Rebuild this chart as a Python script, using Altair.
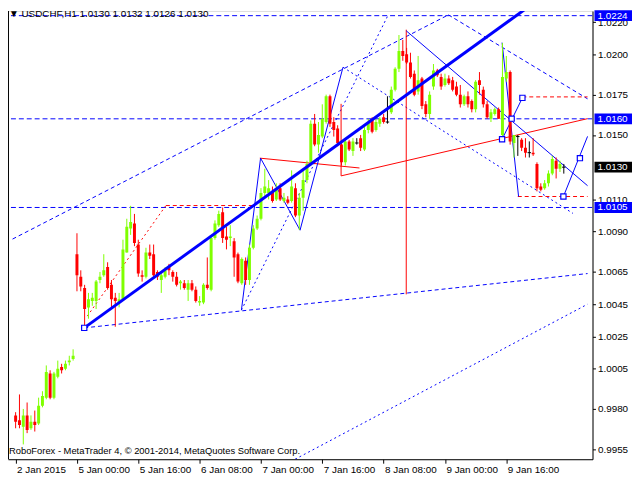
import altair as alt
import pandas as pd

FONT = "Liberation Sans"
BLUE = "#0000ff"
RED = "#ff0000"
GREEN = "#7fff00"

opens = [0.9976, 0.9973, 0.9969, 0.9976, 0.9968, 0.9972, 0.9971, 0.9982, 0.9987, 1.0002,
         0.9987, 1.0000, 1.0006, 1.0005, 1.0009, 1.0011, 1.0076, 1.0062, 1.0055, 1.0043,
         1.0047, 1.0047, 1.0060, 1.0063, 1.0068, 1.0057, 1.0049, 1.0046, 1.0048, 1.0077,
         1.0092, 1.0095, 1.0082, 1.0063, 1.0062, 1.0077, 1.0076, 1.0065, 1.0060, 1.0062,
         1.0068, 1.0065, 1.0062, 1.0058, 1.0058, 1.0054, 1.0058, 1.0054, 1.0046, 1.0046,
         1.0057, 1.0054, 1.0086, 1.0094, 1.0102, 1.0087, 1.0086, 1.0084, 1.0076, 1.0058,
         1.0072, 1.0060, 1.0080, 1.0092, 1.0098, 1.0114, 1.0114, 1.0115, 1.0110, 1.0117,
         1.0109, 1.0110, 1.0109, 1.0117, 1.0100, 1.0111, 1.0122, 1.0132, 1.0157, 1.0144,
         1.0149, 1.0158, 1.0174, 1.0158, 1.0154, 1.0144, 1.0133, 1.0146, 1.0140, 1.0145,
         1.0148, 1.0141, 1.0153, 1.0160, 1.0153, 1.0157, 1.0161, 1.0158, 1.0164, 1.0178,
         1.0191, 1.0202, 1.0200, 1.0195, 1.0188, 1.0177, 1.0185, 1.0169, 1.0163, 1.0180,
         1.0190, 1.0186, 1.0181, 1.0185, 1.0184, 1.0180, 1.0175, 1.0169, 1.0174, 1.0171,
         1.0166, 1.0184, 1.0178, 1.0169, 1.0160, 1.0163, 1.0166, 1.0150, 1.0185, 1.0189,
         1.0145, 1.0149, 1.0147, 1.0142, 1.0139, 1.0139, 1.0132, 1.0118, 1.0117, 1.0120,
         1.0126, 1.0134, 1.0129, 1.0130]
highs = [0.9978, 0.9989, 0.9980, 0.9984, 0.9976, 0.9979, 0.9987, 0.9991, 1.0007, 1.0004,
         1.0003, 1.0010, 1.0008, 1.0010, 1.0013, 1.0017, 1.0089, 1.0066, 1.0057, 1.0052,
         1.0052, 1.0060, 1.0065, 1.0076, 1.0071, 1.0060, 1.0052, 1.0052, 1.0085, 1.0098,
         1.0106, 1.0101, 1.0085, 1.0066, 1.0080, 1.0082, 1.0082, 1.0066, 1.0065, 1.0068,
         1.0070, 1.0066, 1.0065, 1.0060, 1.0060, 1.0060, 1.0060, 1.0056, 1.0050, 1.0058,
         1.0074, 1.0087, 1.0097, 1.0103, 1.0105, 1.0093, 1.0094, 1.0086, 1.0077, 1.0074,
         1.0074, 1.0082, 1.0094, 1.0100, 1.0117, 1.0129, 1.0122, 1.0118, 1.0120, 1.0120,
         1.0114, 1.0112, 1.0128, 1.0120, 1.0114, 1.0128, 1.0134, 1.0159, 1.0163, 1.0158,
         1.0169, 1.0175, 1.0175, 1.0161, 1.0156, 1.0146, 1.0148, 1.0147, 1.0148, 1.0148,
         1.0150, 1.0155, 1.0160, 1.0161, 1.0160, 1.0161, 1.0163, 1.0174, 1.0180, 1.0192,
         1.0212, 1.0209, 1.0204, 1.0201, 1.0190, 1.0199, 1.0186, 1.0171, 1.0177, 1.0194,
         1.0191, 1.0188, 1.0188, 1.0187, 1.0186, 1.0183, 1.0181, 1.0175, 1.0177, 1.0172,
         1.0184, 1.0189, 1.0180, 1.0171, 1.0166, 1.0167, 1.0167, 1.0207, 1.0199, 1.0190,
         1.0150, 1.0150, 1.0148, 1.0148, 1.0146, 1.0148, 1.0133, 1.0120, 1.0122, 1.0128,
         1.0137, 1.0136, 1.0134, 1.0132]
lows = [0.9968, 0.9968, 0.9958, 0.9965, 0.9967, 0.9966, 0.9970, 0.9981, 0.9986, 0.9986,
        0.9986, 0.9999, 1.0002, 1.0004, 1.0007, 1.0010, 1.0053, 1.0053, 1.0030, 1.0036,
        1.0044, 1.0042, 1.0058, 1.0062, 1.0054, 1.0043, 1.0031, 1.0043, 1.0047, 1.0077,
        1.0088, 1.0081, 1.0062, 1.0059, 1.0061, 1.0073, 1.0062, 1.0060, 1.0052, 1.0061,
        1.0063, 1.0059, 1.0056, 1.0054, 1.0054, 1.0047, 1.0053, 1.0046, 1.0044, 1.0045,
        1.0054, 1.0053, 1.0085, 1.0093, 1.0083, 1.0079, 1.0081, 1.0062, 1.0058, 1.0057,
        1.0057, 1.0057, 1.0079, 1.0091, 1.0097, 1.0112, 1.0110, 1.0108, 1.0109, 1.0109,
        1.0108, 1.0107, 1.0108, 1.0099, 1.0091, 1.0103, 1.0120, 1.0131, 1.0143, 1.0139,
        1.0148, 1.0157, 1.0155, 1.0149, 1.0143, 1.0131, 1.0131, 1.0140, 1.0137, 1.0144,
        1.0140, 1.0140, 1.0151, 1.0151, 1.0152, 1.0155, 1.0157, 1.0157, 1.0163, 1.0177,
        1.0189, 1.0196, 1.0194, 1.0185, 1.0174, 1.0175, 1.0166, 1.0161, 1.0160, 1.0178,
        1.0186, 1.0178, 1.0180, 1.0181, 1.0177, 1.0174, 1.0167, 1.0168, 1.0167, 1.0164,
        1.0164, 1.0175, 1.0167, 1.0160, 1.0158, 1.0162, 1.0160, 1.0148, 1.0183, 1.0144,
        1.0136, 1.0137, 1.0140, 1.0136, 1.0136, 1.0137, 1.0115, 1.0115, 1.0116, 1.0118,
        1.0125, 1.0123, 1.0127, 1.0126]
closes = [0.9972, 0.9970, 0.9976, 0.9967, 0.9972, 0.9970, 0.9982, 0.9988, 1.0003, 0.9987,
          1.0002, 1.0005, 1.0004, 1.0008, 1.0010, 1.0013, 1.0063, 1.0056, 1.0042, 1.0048,
          1.0049, 1.0059, 1.0062, 1.0066, 1.0055, 1.0048, 1.0047, 1.0048, 1.0079, 1.0093,
          1.0096, 1.0083, 1.0064, 1.0062, 1.0077, 1.0075, 1.0063, 1.0062, 1.0063, 1.0066,
          1.0066, 1.0062, 1.0057, 1.0059, 1.0055, 1.0058, 1.0054, 1.0047, 1.0047, 1.0057,
          1.0055, 1.0086, 1.0095, 1.0101, 1.0086, 1.0085, 1.0087, 1.0074, 1.0059, 1.0073,
          1.0060, 1.0080, 1.0092, 1.0098, 1.0114, 1.0118, 1.0117, 1.0109, 1.0117, 1.0110,
          1.0111, 1.0108, 1.0118, 1.0100, 1.0111, 1.0122, 1.0132, 1.0157, 1.0144, 1.0150,
          1.0160, 1.0174, 1.0157, 1.0153, 1.0145, 1.0133, 1.0146, 1.0141, 1.0146, 1.0145,
          1.0142, 1.0153, 1.0158, 1.0152, 1.0158, 1.0160, 1.0158, 1.0158, 1.0178, 1.0191,
          1.0202, 1.0199, 1.0195, 1.0186, 1.0175, 1.0184, 1.0168, 1.0163, 1.0175, 1.0190,
          1.0187, 1.0180, 1.0185, 1.0182, 1.0178, 1.0175, 1.0169, 1.0174, 1.0169, 1.0166,
          1.0183, 1.0181, 1.0169, 1.0161, 1.0164, 1.0166, 1.0160, 1.0186, 1.0189, 1.0146,
          1.0150, 1.0149, 1.0142, 1.0139, 1.0139, 1.0138, 1.0117, 1.0116, 1.0120, 1.0126,
          1.0135, 1.0129, 1.0132, 1.0130]

# x axis: bar index of each labelled bar and its text
tick_idx = [0, 16, 32, 48, 64, 80, 96, 112, 128]
tick_labels = ["2 Jan 2015", "5 Jan 00:00", "5 Jan 16:00", "6 Jan 08:00", "7 Jan 00:00",
               "7 Jan 16:00", "8 Jan 08:00", "9 Jan 00:00", "9 Jan 16:00"]
# y axis tick values
price_ticks = [1.0220, 1.0200, 1.0175, 1.0150, 1.0110, 1.0090, 1.0065, 1.0045,
               1.0025, 1.0005, 0.9980, 0.9955]
# horizontal levels (blue dashed) and highlighted price boxes
levels = [1.0224, 1.0160, 1.0105]
box_prices = [1.0224, 1.0160, 1.0105, 1.0130]
box_colors = [BLUE, BLUE, BLUE, "#000000"]

# drawn analysis objects: (bar index 1, price 1, bar index 2, price 2)
blue_thick = [(17.9, 1.00303, 149.2, 1.02560)]
blue_thin = [(58.9, 1.00413, 63.9, 1.01356),
             (63.9, 1.01356, 74.2, 1.00909),
             (74.2, 1.00909, 85.4, 1.01920),
             (101.9, 1.02146, 149.2, 1.01185),
             (126.9, 1.02073, 131.2, 1.01118),
             (126.9, 1.01473, 132.2, 1.01730),
             (142.9, 1.01118, 149.2, 1.01491)]
blue_dashed = [(-0.8, 1.00854, 112.9, 1.02245),
               (17.9, 1.00303, 149.2, 1.00640),
               (112.9, 1.02245, 149.2, 1.01724)]
blue_dotted = [(72.9, 0.99488, 149.2, 1.00450),
               (85.4, 1.01920, 145.4, 1.01013),
               (58.9, 1.00413, 97.2, 1.02245)]
red_solid = [(84.9, 1.01246, 149.2, 1.01601),
             (63.7, 1.01356, 89.7, 1.01295),
             (84.9, 1.01693, 84.9, 1.01246),
             (101.9, 1.02153, 101.9, 1.00511)]
red_dashed = [(39.2, 1.01062, 61.7, 1.01062),
              (132.2, 1.01736, 149.2, 1.01736),
              (131.0, 1.01118, 149.2, 1.01118)]
red_dotted = [(18.7, 1.00376, 39.2, 1.01062)]
squares_x = [17.9, 126.9, 132.2, 129.4, 142.9, 147.2]
squares_y = [1.00303, 1.01473, 1.01730, 1.01601, 1.01118, 1.01356]

title_text = "\u25bc USDCHF,H1 1.0130 1.0132 1.0126 1.0130"
copyright_text = "RoboForex - MetaTrader 4, \u00a9 2001-2014, MetaQuotes Software Corp."

W, H = 592, 454

def cdir(o, c):
    if c > o:
        return "up"
    if c < o:
        return "down"
    return "doji"

candles = pd.DataFrame({
    "i": list(range(len(opens))), "o": opens, "h": highs, "l": lows, "c": closes,
    "dir": [cdir(o, c) for o, c in zip(opens, closes)],
})

label_arr = "[" + ",".join("'%s'" % t for t in tick_labels) + "]"
xaxis = alt.Axis(values=tick_idx, labelExpr=label_arr + "[round(datum.value/16)]",
                 title=None, grid=False, orient="bottom", tickSize=4, labelAlign="left",
                 labelBaseline="top", labelPadding=1, labelFont=FONT, labelFontSize=10,
                 labelColor="black", domainColor="black", tickColor="black",
                 labelFlush=False, labelOverlap=False, labelOffset=1)
yaxis = alt.Axis(values=price_ticks, format=".4f", title=None, grid=False, orient="right",
                 tickSize=3, labelPadding=2, labelFont=FONT, labelFontSize=10,
                 labelColor="black", domainColor="black", tickColor="black",
                 labelOverlap=False, labelFlush=False)
xs = alt.Scale(domain=[-0.7, 149.2], nice=False, zero=False)
ys = alt.Scale(domain=[0.99488, 1.02269], nice=False, zero=False)

def X(f):
    return alt.X(f, type="quantitative", scale=xs, axis=xaxis)

def Y(f):
    return alt.Y(f, type="quantitative", scale=ys, axis=yaxis)

cscale = alt.Scale(domain=["up", "down", "doji"], range=[GREEN, RED, "#000000"])

def segs(rows):
    return pd.DataFrame(rows, columns=["x", "y", "x2", "y2"])

def seg_layer(rows, color, width, dash=None):
    kw = dict(color=color, strokeWidth=width, clip=True)
    if dash:
        kw["strokeDash"] = dash
    return alt.Chart(segs(rows)).mark_rule(**kw).encode(
        x=X("x"), y=Y("y"), x2="x2", y2="y2")

level_layer = alt.Chart(pd.DataFrame({"p": levels})).mark_rule(
    color=BLUE, strokeWidth=1, strokeDash=[5, 3], clip=True).encode(y=Y("p"))

wicks = alt.Chart(candles).mark_rule(strokeWidth=1, clip=True).encode(
    x=X("i"), y=Y("l"), y2="h",
    color=alt.Color("dir:N", scale=cscale, legend=None))
bodies = alt.Chart(candles).transform_filter("datum.dir != 'doji'").mark_bar(
    size=3, clip=True).encode(
    x=X("i"), y=Y("o"), y2="c",
    color=alt.Color("dir:N", scale=cscale, legend=None))
dojis = alt.Chart(candles).transform_filter("datum.dir == 'doji'").mark_point(
    shape="M-1,0L1,0", size=12, filled=False, strokeWidth=1, color="#000000",
    opacity=1, clip=True).encode(x=X("i"), y=Y("o"))

sq = alt.Chart(pd.DataFrame({"x": squares_x, "y": squares_y})).mark_square(
    size=28, fill="white", stroke=BLUE, strokeWidth=1.2, opacity=1, clip=True).encode(
    x=X("x"), y=Y("y"))

frame = alt.Chart(pd.DataFrame({"a": [0]})).mark_rule(color="black", strokeWidth=1).encode(
    x=alt.value(0.5), y=alt.value(0), y2=alt.value(H))

boxes_df = pd.DataFrame({"p": box_prices, "col": box_colors,
                         "lab": ["%.4f" % v for v in box_prices]})
boxes = alt.Chart(boxes_df).mark_point(
    shape="M-1,-0.29L1,-0.29L1,0.29L-1,0.29Z", size=1444, filled=True, opacity=1,
    strokeWidth=0).encode(
    x=alt.value(W + 21), y=Y("p"), color=alt.Color("col:N", scale=None, legend=None))
box_text = alt.Chart(boxes_df).mark_text(
    align="left", baseline="middle", font=FONT, fontSize=10, color="white").encode(
    x=alt.value(W + 5), y=Y("p"), text="lab:N")

title = alt.Chart(pd.DataFrame({"t": [title_text]})).mark_text(
    align="left", baseline="alphabetic", font=FONT, fontSize=10, color="black").encode(
    x=alt.value(1), y=alt.value(6), text="t:N")
copyright = alt.Chart(pd.DataFrame({"t": [copyright_text]})).mark_text(
    align="left", baseline="alphabetic", font=FONT, fontSize=9.5, color="black").encode(
    x=alt.value(1), y=alt.value(H - 5), text="t:N")

layers = [
    level_layer,
    seg_layer(blue_dashed, BLUE, 1, [4, 3]),
    seg_layer(blue_dotted, BLUE, 1, [2, 3]),
    seg_layer(red_dashed, RED, 1, [4, 3]),
    seg_layer(red_dotted, RED, 1, [2, 3]),
    seg_layer(red_solid, RED, 1),
    seg_layer(blue_thin, BLUE, 1),
    wicks, bodies, dojis,
    seg_layer(blue_thick, BLUE, 3),
    sq, frame, boxes, box_text, title, copyright,
]

chart = alt.layer(*layers).properties(
    width=W, height=H,
    padding={"left": 0, "top": 0, "right": 40, "bottom": 18},
    autosize=alt.AutoSizeParams(type="none"),
).configure_view(stroke=None).configure(background="white")

chart.save("out.html", embed_options={"renderer": "svg", "actions": False})
